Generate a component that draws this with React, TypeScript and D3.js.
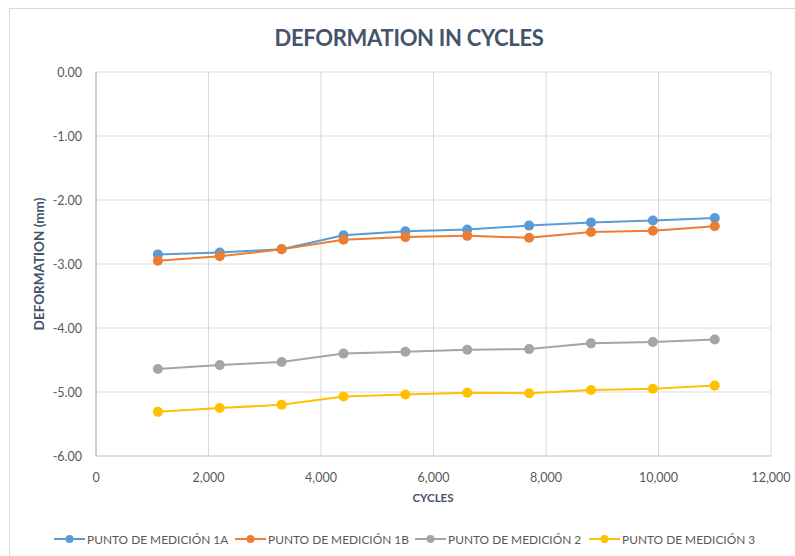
import React from "react";
import * as d3 from "d3";

const cycles = [1100, 2200, 3300, 4400, 5500, 6600, 7700, 8800, 9900, 11000];
const seriesNames = ["PUNTO DE MEDICIÓN 1A", "PUNTO DE MEDICIÓN 1B", "PUNTO DE MEDICIÓN 2", "PUNTO DE MEDICIÓN 3"];
const punto1A = [-2.85, -2.82, -2.77, -2.55, -2.49, -2.46, -2.40, -2.35, -2.32, -2.28];
const punto1B = [-2.95, -2.88, -2.77, -2.62, -2.58, -2.56, -2.59, -2.50, -2.48, -2.41];
const punto2 = [-4.64, -4.58, -4.53, -4.40, -4.37, -4.34, -4.33, -4.24, -4.22, -4.18];
const punto3 = [-5.31, -5.25, -5.20, -5.07, -5.04, -5.01, -5.02, -4.97, -4.95, -4.90];
const colors = ["#5B9BD5", "#ED7D31", "#A5A5A5", "#FFC000"];
const xTicks = [0, 2000, 4000, 6000, 8000, 10000, 12000];
const yTicks = [0, -1, -2, -3, -4, -5, -6];

export default function App() {
  const W = 795, H = 556;
  const left = 96, right = 771, top = 72, bottom = 456;
  const x = d3.scaleLinear().domain([0, 12000]).range([left, right]);
  const y = d3.scaleLinear().domain([0, -6]).range([top, bottom]);
  const all = [punto1A, punto1B, punto2, punto3];
  const line = d3.line<number>().x((_, i) => x(cycles[i])).y((d) => y(d));
  const font = "Lato, 'Open Sans', sans-serif";
  const fmtX = d3.format(",");
  const legendX = [54, 235, 415, 589];
  return (
    <svg width={W} height={H} style={{ position: "absolute", left: 0, top: 0, background: "#fff" }} fontFamily={font}>
      <rect x={9.5} y={8.5} width={W} height={H} fill="#fff" stroke="#d9d9d9" />
      <text x={409} y={46} textAnchor="middle" fontSize={22} fontWeight={700} fill="#44546A" letterSpacing={-0.3}>DEFORMATION IN CYCLES</text>
      {yTicks.map((t) => (
        <g key={"y" + t}>
          <line x1={left} x2={right} y1={y(t)} y2={y(t)} stroke="#d9d9d9" strokeWidth={1} />
          <text x={82} y={y(t) + 4.5} textAnchor="end" fontSize={12.5} fill="#595959">{t.toFixed(2)}</text>
        </g>
      ))}
      {xTicks.map((t) => (
        <g key={"x" + t}>
          <line x1={x(t)} x2={x(t)} y1={top} y2={bottom} stroke="#d9d9d9" strokeWidth={1} />
          <text x={x(t)} y={bottom + 26} textAnchor="middle" fontSize={12.5} fill="#595959">{fmtX(t)}</text>
        </g>
      ))}
      <line x1={left} x2={left} y1={top} y2={bottom} stroke="#a6b4c8" strokeWidth={1} />
      <line x1={left} x2={right} y1={bottom} y2={bottom} stroke="#c9d0da" strokeWidth={1} />
      <text x={433} y={502} textAnchor="middle" fontSize={11.5} fontWeight={700} fill="#44546A">CYCLES</text>
      <text transform={`translate(44,${(top + bottom) / 2}) rotate(-90)`} textAnchor="middle" fontSize={13.5} fontWeight={700} fill="#44546A">DEFORMATION (mm)</text>
      {all.map((s, si) => (
        <g key={"s" + si}>
          <path d={line(s) || ""} fill="none" stroke={colors[si]} strokeWidth={2} />
          {s.map((v, i) => (
            <circle key={i} cx={x(cycles[i])} cy={y(v)} r={5} fill={colors[si]} />
          ))}
        </g>
      ))}
      {seriesNames.map((n, i) => (
        <g key={"l" + i}>
          <line x1={legendX[i]} x2={legendX[i] + 31} y1={539} y2={539} stroke={colors[i]} strokeWidth={2} />
          <circle cx={legendX[i] + 15.5} cy={539} r={4} fill={colors[i]} />
          <text x={legendX[i] + 33} y={543.5} fontSize={11.9} fill="#595959">{n}</text>
        </g>
      ))}
    </svg>
  );
}
